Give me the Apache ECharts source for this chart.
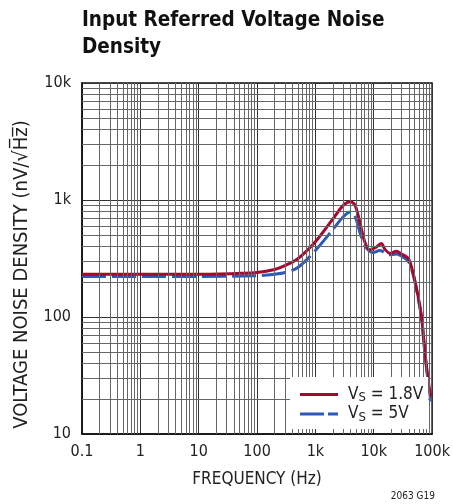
<!DOCTYPE html>
<html>
<head>
<meta charset="utf-8">
<script src="https://cdn.jsdelivr.net/npm/echarts@6/dist/echarts.min.js"></script>
<style>html,body{margin:0;padding:0;background:#fff;}#c{width:453px;height:504px;}</style>
</head>
<body>
<div id="c"></div>
<script>
// Data
var freq18 = [0.1, 1, 10, 50, 100, 200, 300, 500, 1000, 2000, 3000, 4000, 4800, 5800, 7000, 8600, 11000, 13500, 15500, 19000, 24500, 30000, 39000, 47400, 57700, 65800, 75000, 85400, 95000];
var noise18 = [232, 232, 232, 236, 240, 255, 275, 315, 440, 690, 900, 965, 900, 640, 440, 375, 395, 425, 380, 350, 365, 345, 317, 236, 149, 101, 52, 29, 20.8];
var freq5 = [0.1, 1, 10, 100, 200, 300, 500, 1000, 2000, 3000, 4000, 4800, 6000, 7500, 9800, 12500, 14000, 17500, 25000, 30000, 39000, 47400, 57700, 65800, 75000, 85400, 95000];
var noise5 = [222, 222, 222, 225, 232, 240, 265, 370, 560, 720, 790, 720, 500, 390, 355, 370, 365, 340, 345, 330, 300, 230, 145, 98, 50, 28, 19];
var xTickLabels = {'0.1':'0.1','1':'1','10':'10','100':'100','1000':'1k','10000':'10k','100000':'100k'};
var yTickLabels = {'10':'10','100':'100','1000':'1k','10000':'10k'};
var xMinor = [0.2,0.3,0.4,0.5,0.6,0.7,0.8,0.9,2,3,4,5,6,7,8,9,20,30,40,50,60,70,80,90,200,300,400,500,600,700,800,900,2000,3000,4000,5000,6000,7000,8000,9000,20000,30000,40000,50000,60000,70000,80000,90000];
var yMinor = [20,30,40,50,60,70,80,90,200,300,400,500,600,700,800,900,2000,3000,4000,5000,6000,7000,8000,9000];
var seriesNames = ['VS = 1.8V', 'VS = 5V'];

var FONT = "'Liberation Sans Narrow','DejaVu Sans Condensed','Liberation Sans',sans-serif";
function pairs(xs, ys){ return xs.map(function(x,i){ return [x, ys[i]]; }); }
function lbl(map){ return function(v){ var k = String(+v.toPrecision(6)); return map[k] !== undefined ? map[k] : ''; }; }

var chart = echarts.init(document.getElementById('c'), null, {renderer:'canvas'});
chart.setOption({
  animation: false,
  backgroundColor: '#fff',
  title: [{
    text: 'Input Referred Voltage Noise\nDensity',
    left: 77, top: 2,
    textStyle: {fontFamily: FONT, fontWeight: 'bold', fontSize: 20.5, lineHeight: 27, color: '#111'}
  }, {
    text: '2063 G19', right: 13, top: 486,
    textStyle: {fontFamily: FONT, fontWeight: 'normal', fontSize: 10, color: '#222'}
  }],
  grid: {left: 82, right: 19, top: 83, bottom: 70, show: true, borderColor: '#111', borderWidth: 1.5, backgroundColor: 'transparent'},
  legend: {
    orient: 'vertical', left: 290, top: 377, z: 20,
    data: [{name: seriesNames[0], icon: 'rect'},
           {name: seriesNames[1], icon: 'path://M0 0H24V3H0Z M28 0H38V3H28Z'}],
    backgroundColor: '#fff',
    padding: [9, 5, 5, 10],
    itemWidth: 38, itemHeight: 3, itemGap: 1,
    formatter: function(n){ return n === seriesNames[0] ? '{a|V}{s|S}{a| = 1.8V}' : '{a|V}{s|S}{a| = 5V}'; },
    textStyle: {fontFamily: FONT, fontSize: 17, color: '#222', padding: [0,0,0,5],
      rich: {a: {fontFamily: FONT, fontSize: 17, color: '#222', lineHeight: 20},
             s: {fontFamily: FONT, fontSize: 13, color: '#222', lineHeight: 20, verticalAlign: 'bottom'}}}
  },
  xAxis: {
    type: 'log', logBase: 10, min: 0.1, max: 100000, interval: 1,
    axisLine: {show: true, lineStyle: {color: '#111', width: 1.5}},
    axisTick: {show: false},
    axisLabel: {formatter: lbl(xTickLabels), fontFamily: FONT, fontSize: 16, color: '#222', margin: 10, showMinLabel: true, showMaxLabel: true},
    splitLine: {show: true, lineStyle: {color: '#333', width: 1}},
    name: 'FREQUENCY (Hz)', nameLocation: 'middle', nameGap: 37,
    nameTextStyle: {fontFamily: FONT, fontSize: 17, color: '#222'}
  },
  yAxis: {
    type: 'log', logBase: 10, min: 10, max: 10000, interval: 1,
    axisLine: {show: true, lineStyle: {color: '#111', width: 1.5}},
    axisTick: {show: false},
    axisLabel: {formatter: lbl(yTickLabels), fontFamily: FONT, fontSize: 16, color: '#222', margin: 11, showMinLabel: true, showMaxLabel: true},
    splitLine: {show: true, lineStyle: {color: '#333', width: 1}},
    name: 'VOLTAGE NOISE DENSITY (nV/\u221AH\u0305z\u0305)', nameLocation: 'middle', nameGap: 50,
    nameTextStyle: {fontFamily: FONT, fontSize: 20, color: '#222', padding: [0, 32, 0, 0]}
  },
  series: [{
    name: '_grid', type: 'line', data: [], silent: true, z: 1,
    markLine: {
      silent: true, symbol: 'none', animation: false,
      label: {show: false},
      lineStyle: {color: '#666', width: 1, type: 'solid'},
      data: xMinor.map(function(v){ return {xAxis: v}; }).concat(yMinor.map(function(v){ return {yAxis: v}; }))
    }
  }, {
    name: seriesNames[1], type: 'line', data: pairs(freq5, noise5), smooth: 0.3,
    symbol: 'none', showSymbol: false, z: 3,
    lineStyle: {color: '#2B5BB8', width: 3, type: [24, 6]},
    itemStyle: {color: '#2B5BB8'}
  }, {
    name: seriesNames[0], type: 'line', data: pairs(freq18, noise18), smooth: 0.3,
    symbol: 'none', showSymbol: false, z: 4,
    lineStyle: {color: '#A6072E', width: 3},
    itemStyle: {color: '#A6072E'}
  }]
});
</script>
</body>
</html>
